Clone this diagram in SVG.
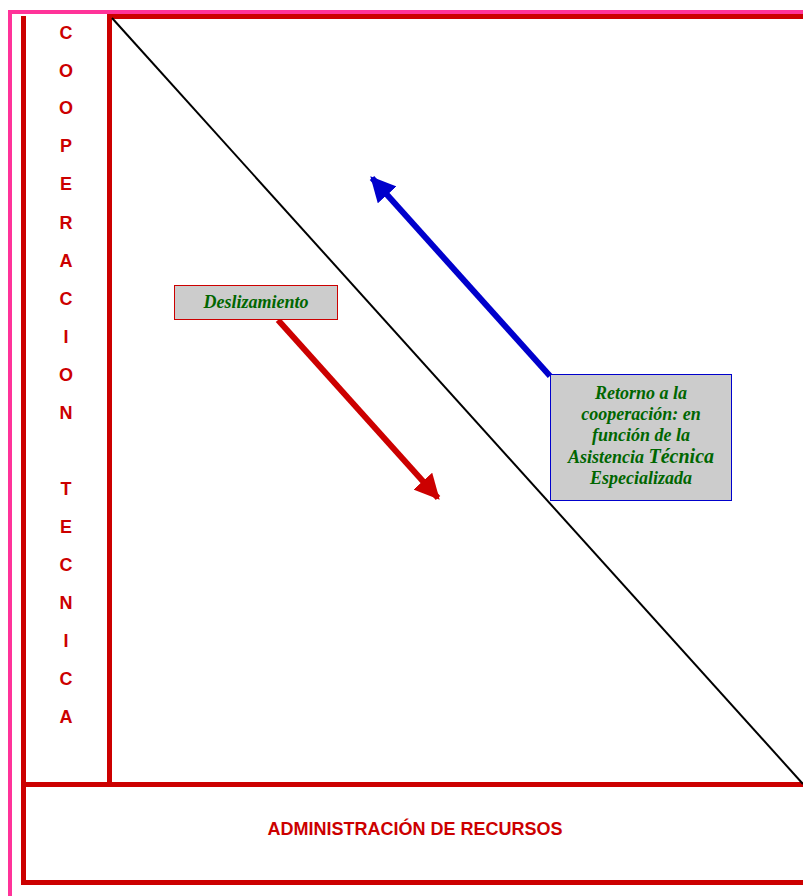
<svg xmlns="http://www.w3.org/2000/svg" width="803" height="896" viewBox="0 0 803 896">
<style>
.frame{fill:none;stroke:#cc0000;stroke-width:5}
.vt{font-family:"Liberation Sans",Arial,sans-serif;font-weight:bold;font-size:18px;fill:#cc0000;text-anchor:middle}
.lbl{font-family:"Liberation Serif","Times New Roman",serif;font-weight:bold;font-style:italic;font-size:18px;fill:#006600;text-anchor:middle}
</style>
<defs>
<marker id="ahr" viewBox="0 0 10 10" refX="9" refY="5" markerWidth="4.2" markerHeight="4.2" orient="auto" markerUnits="strokeWidth"><path d="M0,0 L10,5 L0,10 z" fill="#cc0000"/></marker>
<marker id="ahb" viewBox="0 0 10 10" refX="9" refY="5" markerWidth="4.2" markerHeight="4.2" orient="auto" markerUnits="strokeWidth"><path d="M0,0 L10,5 L0,10 z" fill="#0000cc"/></marker>
</defs>
<rect width="803" height="896" fill="#fff"/>
<!-- pink border -->
<path d="M10,896 V12 H803" fill="none" stroke="#ff3399" stroke-width="4"/>
<!-- red frames -->
<path class="frame" d="M23.5,16 V882.5 H803"/>
<path class="frame" d="M109.5,784.5 V16.5 H803"/>
<path class="frame" d="M23.5,784.5 H803"/>
<g id="connectors">
<line x1="112" y1="18" x2="803" y2="784" stroke="#000" stroke-width="2"/>
<line x1="278" y1="320" x2="438" y2="498" stroke="#cc0000" stroke-width="6" marker-end="url(#ahr)"/>
<line x1="550" y1="376" x2="372" y2="178" stroke="#0000cc" stroke-width="6" marker-end="url(#ahb)"/>
</g>
<g id="cooperacion">
<text class="vt" x="66" y="39">C</text>
<text class="vt" x="66" y="77">O</text>
<text class="vt" x="66" y="114">O</text>
<text class="vt" x="66" y="152">P</text>
<text class="vt" x="66" y="190">E</text>
<text class="vt" x="66" y="229">R</text>
<text class="vt" x="66" y="267">A</text>
<text class="vt" x="66" y="305">C</text>
<text class="vt" x="66" y="343">I</text>
<text class="vt" x="66" y="381">O</text>
<text class="vt" x="66" y="419">N</text>
<text class="vt" x="66" y="495">T</text>
<text class="vt" x="66" y="533">E</text>
<text class="vt" x="66" y="571">C</text>
<text class="vt" x="66" y="609">N</text>
<text class="vt" x="66" y="647">I</text>
<text class="vt" x="66" y="685">C</text>
<text class="vt" x="66" y="723">A</text>
</g>
<g id="administracion">
<text class="vt" x="415" y="835">ADMINISTRACIÓN DE RECURSOS</text>
</g>
<g id="deslizamiento">
<rect x="174.5" y="285.5" width="163" height="34" fill="#cccccc" stroke="#cc0000" stroke-width="1"/>
<text class="lbl" x="256" y="308">Deslizamiento</text>
</g>
<g id="retorno">
<rect x="550.5" y="374.5" width="181" height="126" fill="#cccccc" stroke="#0000cc" stroke-width="1"/>
<text class="lbl" x="641" y="399">Retorno a la</text>
<text class="lbl" x="641" y="420">cooperación: en</text>
<text class="lbl" x="641" y="441">función de la</text>
<text class="lbl" x="641" y="463">Asistencia <tspan style="font-size:20px">Técnica</tspan></text>
<text class="lbl" x="641" y="484">Especializada</text>
</g>
</svg>
